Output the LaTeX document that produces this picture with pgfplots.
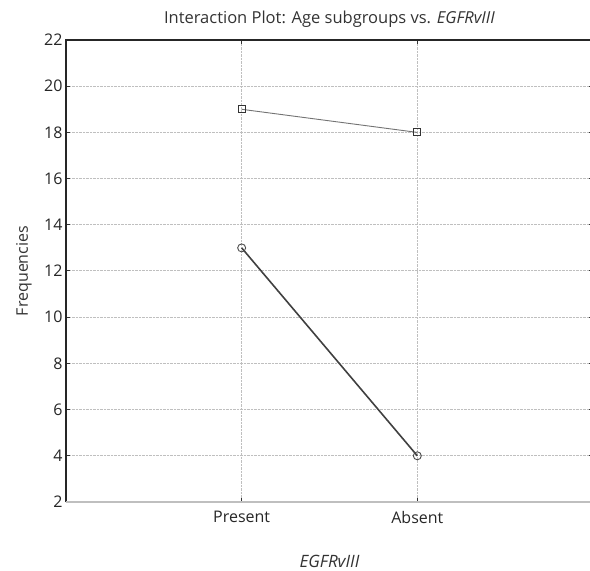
\documentclass[border=0pt]{standalone}
\usepackage{fontspec}
\setmainfont{Open Sans}
\usepackage{pgfplots}
\pgfplotsset{compat=1.18}

\begin{document}
\begin{tikzpicture}
  \begin{axis}[
      scale only axis,
      width=527pt, height=462pt,
      xmin=-1, xmax=2,
      ymin=2, ymax=22,
      xtick={0,1},
      xticklabels={Present,Absent},
      ytick={2,4,...,22},
      /pgf/number format/assume math mode=true,
      ticklabel style={font=\fontsize{16}{19}\selectfont, text=black!85},
      xticklabel style={yshift=-6pt},
      title={Interaction Plot: Age subgroups vs. \textit{EGFRvIII}},
      title style={font=\fontsize{16.5}{19}\selectfont, text=black!80,
        at={(axis description cs:0.5,1.0325)}, anchor=center},
      xlabel={\textit{EGFRvIII}},
      xlabel style={font=\fontsize{17}{20}\selectfont, text=black!80,
        at={(axis description cs:0.5,-0.128)}, anchor=center},
      ylabel={Frequencies},
      ylabel style={font=\fontsize{16}{19}\selectfont, text=black!80,
        at={(axis description cs:-0.0797,0.5)}, anchor=center},
      grid=major,
      major grid style={gray!50, densely dotted, line width=1pt},
      axis line style={draw=none},
      tick style={black!80, line width=1pt},
      major tick length=4pt,
      clip=false,
    ]
    \draw[black!85, line width=1.6pt] (rel axis cs:0,0) -- (rel axis cs:0,1) -- (rel axis cs:1,1);
    \draw[black!25, line width=1.6pt] (rel axis cs:0,0) -- (rel axis cs:1,0);
    \addplot[color=black!55, line width=0.9pt, mark=square, mark size=3.5pt,
      mark options={draw=black!80, line width=1pt, solid}]
      coordinates {
        (0, 19)
        (1, 18)
      };
    \addplot[color=black!75, line width=1.6pt, mark=o, mark size=4pt,
      mark options={draw=black!70, fill=white, line width=0.9pt, solid}]
      coordinates {
        (0, 13)
        (1, 4)
      };
  \end{axis}
  \pgfresetboundingbox
  \useasboundingbox (-66pt,-69pt) rectangle (524pt,502pt);
\end{tikzpicture}
\end{document}
